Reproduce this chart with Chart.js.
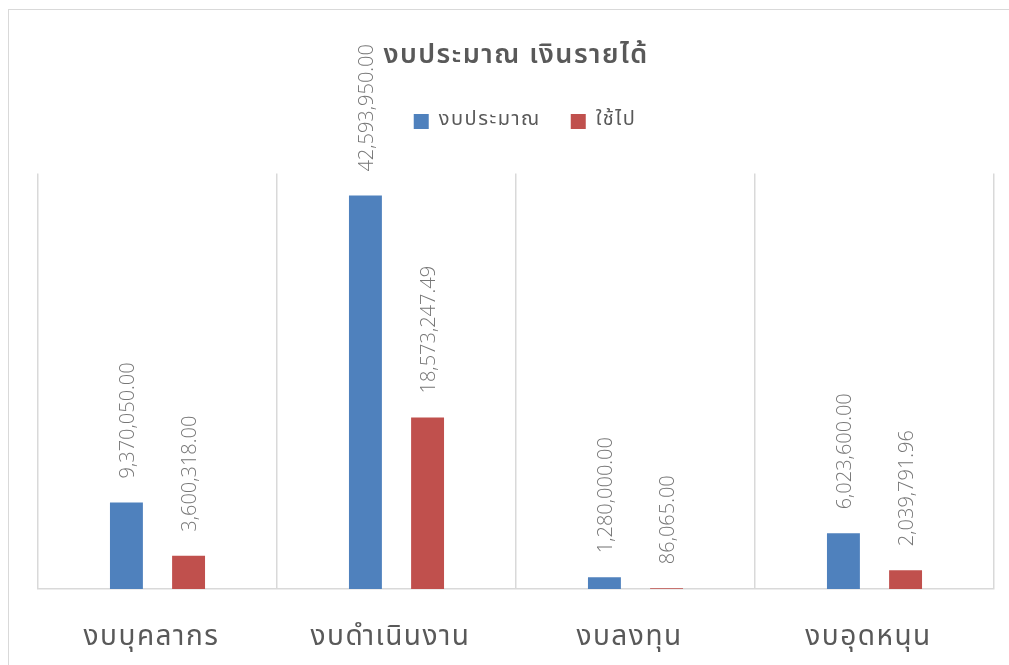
<!DOCTYPE html>
<html>
<head>
<meta charset="utf-8">
<script src="https://cdn.jsdelivr.net/npm/chart.js@4.4.0/dist/chart.umd.min.js"></script>
<style>
  html, body { margin: 0; padding: 0; background: #fff; overflow: hidden; }
  #frame { position: absolute; left: 8px; top: 9px; width: 1100px; height: 700px; border: 1.5px solid #d9d9d9; }
  #chart { position: absolute; left: 0; top: 0; }
</style>
</head>
<body>
<div id="frame"></div>
<canvas id="chart" width="1009" height="665"></canvas>
<script>
const categories = ['งบบุคลากร', 'งบดำเนินงาน', 'งบลงทุน', 'งบอุดหนุน'];
const budget = [9370050.00, 42593950.00, 1280000.00, 6023600.00];
const spent = [3600318.00, 18573247.49, 86065.00, 2039791.96];

const textGray = '#595959';
const thaiFont = "'Noto Sans Thai', 'Noto Sans', 'DejaVu Sans', sans-serif";

// a bit of letter spacing for title + legend, and extra room under the legend
const spacing = {
    id: 'spacing',
    beforeInit(chart) {
        const fit = chart.legend.fit;
        chart.legend.fit = function () {
            fit.call(this);
            this.height += 32;
        };
    },
    beforeDraw(chart) {
        chart.ctx.letterSpacing = '1.5px';
    },
    beforeDatasetsDraw(chart) {
        chart.ctx.letterSpacing = '0px';
    }
};

// value labels, rotated, above each bar
const barLabels = {
    id: 'barLabels',
    afterDatasetsDraw(chart) {
        const ctx = chart.ctx;
        ctx.save();
        ctx.letterSpacing = '0px';
        ctx.fillStyle = '#767676';
        ctx.font = "300 20px 'Open Sans', sans-serif";
        ctx.textAlign = 'left';
        ctx.textBaseline = 'middle';
        chart.data.datasets.forEach((ds, di) => {
            chart.getDatasetMeta(di).data.forEach((bar, i) => {
                const txt = ds.data[i].toLocaleString('en-US', { minimumFractionDigits: 2, maximumFractionDigits: 2 });
                ctx.save();
                ctx.translate(bar.x + 2, bar.y - 24);
                ctx.rotate(-Math.PI / 2);
                ctx.fillText(txt, 0, 0);
                ctx.restore();
            });
        });
        ctx.restore();
    }
};

// category names under the axis (spaced out like the original)
const xLabels = {
    id: 'xLabels',
    afterDraw(chart) {
        const ctx = chart.ctx;
        const scale = chart.scales.x;
        ctx.save();
        ctx.fillStyle = textGray;
        ctx.font = '28px ' + thaiFont;
        ctx.letterSpacing = '1.5px';
        ctx.textAlign = 'center';
        ctx.textBaseline = 'middle';
        categories.forEach((c, i) => {
            ctx.fillText(c, scale.getPixelForValue(i) - 6, 639);
        });
        ctx.restore();
    }
};

new Chart(document.getElementById('chart'), {
    type: 'bar',
    plugins: [spacing, barLabels, xLabels],
    data: {
        labels: categories,
        datasets: [
            { label: 'งบประมาณ', data: budget, backgroundColor: '#4f81bd' },
            { label: 'ใช้ไป', data: spent, backgroundColor: '#c0504d' }
        ]
    },
    options: {
        responsive: false,
        devicePixelRatio: 1,
        animation: false,
        datasets: {
            bar: { categoryPercentage: 0.52, barPercentage: 0.53 }
        },
        layout: { padding: { left: 38, right: 15, top: 41, bottom: 76 } },
        scales: {
            x: {
                grid: { color: '#d9d9d9', lineWidth: 1.5, drawTicks: false },
                border: { color: '#d9d9d9', width: 1.5 },
                ticks: { display: false }
            },
            y: {
                display: false,
                min: 0,
                max: 45000000
            }
        },
        plugins: {
            tooltip: { enabled: false },
            title: {
                display: true,
                text: 'งบประมาณ เงินรายได้',
                color: textGray,
                font: { family: thaiFont, size: 27, weight: '600' },
                padding: { top: 0, bottom: 8 }
            },
            legend: {
                display: true,
                labels: {
                    color: textGray,
                    font: { family: thaiFont, size: 20 },
                    boxWidth: 15,
                    boxHeight: 15,
                    padding: 30
                }
            }
        }
    }
});
</script>
</body>
</html>
